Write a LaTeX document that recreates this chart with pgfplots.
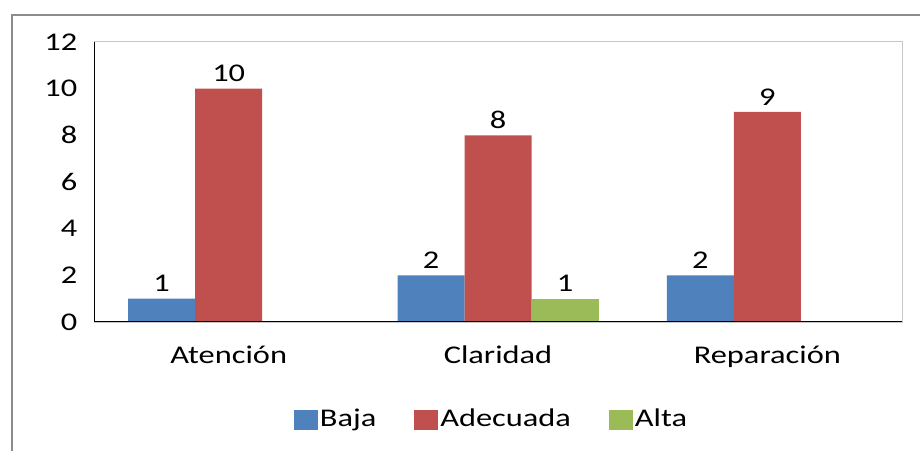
\documentclass[border=0pt]{standalone}
\usepackage{pgfplots}
\pgfplotsset{compat=1.18}
\usepackage{fontspec}
\setmainfont{Carlito}[FakeStretch=1.27]
\definecolor{cblue}{HTML}{4F81BD}
\definecolor{cred}{HTML}{C0504D}
\definecolor{cgreen}{HTML}{9BBB59}
\begin{document}
\fontsize{25.5bp}{30bp}\selectfont
\begin{tikzpicture}
\useasboundingbox (0,0) rectangle (920bp,451bp);
\draw[color=black!45, line width=1.5bp] (12bp,0) -- (12bp,436bp) -- (920bp,436bp);
\begin{axis}[
  at={(94bp,129bp)}, anchor=south west,
  scale only axis, width=808bp, height=280bp,
  xmin=-0.5, xmax=2.5, ymin=0, ymax=12,
  ybar=0pt, bar width=67bp,
  xtick={0,1,2}, xticklabels={Atención,Claridad,Reparación},
  ytick={0,2,4,6,8,10,12},
  major tick length=0pt,
  /pgf/number format/assume math mode=true,
  axis line style={draw=black!22, line width=1bp},
  yticklabel style={anchor=east, xshift=-8bp},
  xticklabel style={anchor=north, yshift=-15bp},
  nodes near coords,
  every node near coord/.append style={black, anchor=south, yshift=-2bp},
  legend style={at={(0.492,-0.35)}, anchor=center, draw=none, fill=none,
    legend columns=-1, /tikz/every even column/.append style={column sep=36bp},
    font=\fontsize{25.5bp}{30bp}\selectfont},
  legend image code/.code={\fill[#1] (-8bp,-10bp) rectangle (16bp,10bp);},
]
\addplot[fill=cblue, draw=none] coordinates {(0,1) (1,2) (2,2)};
\addplot[fill=cred, draw=none] coordinates {(0,10) (1,8) (2,9)};
\addplot[fill=cgreen, draw=none] coordinates {(1,1)};
\legend{Baja,Adecuada,Alta}
\draw[black, line width=1.6bp] (rel axis cs:0,1) -- (rel axis cs:0,0) -- (rel axis cs:1,0);
\end{axis}
\end{tikzpicture}
\end{document}
